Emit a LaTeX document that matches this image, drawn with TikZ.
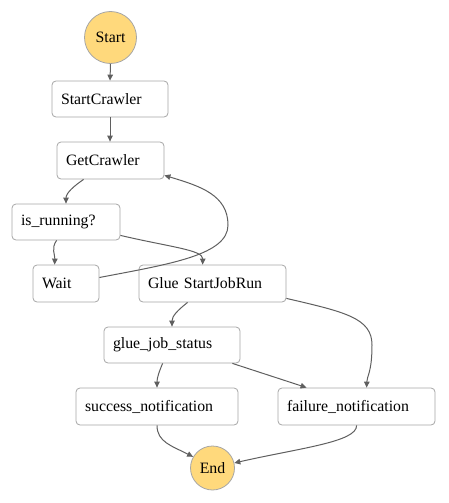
\documentclass[tikz,border=0pt]{standalone}
\usepackage{fontspec}
\setmainfont{Liberation Serif}
\newfontfamily\timesfam{Liberation Serif}
\usetikzlibrary{arrows.meta}
\definecolor{startfill}{HTML}{FFD97C}
\definecolor{boxline}{HTML}{A6A6A6}
\definecolor{edgecol}{HTML}{5F5F5F}
\tikzset{
  statebox/.style={draw=boxline, line width=0.8pt, rounded corners=4pt, fill=white,
    align=left, inner xsep=9pt, inner ysep=0pt, minimum height=#1,
    font=\timesfam\fontsize{15.8}{18}\selectfont, anchor=center},
  statebox/.default=37pt,
  termcircle/.style={circle, draw=boxline, line width=0.8pt, fill=startfill,
    inner sep=0pt, font=\timesfam\fontsize{15.8}{18}\selectfont},
  flow/.style={draw=edgecol, line width=1pt, -{Triangle[length=6pt,width=5.5pt]}}
}
\begin{document}
\begin{tikzpicture}[x=1pt,y=-1pt]
\useasboundingbox (0,0) rectangle (448,503);
% nodes
\node[termcircle, minimum size=52pt] (st) at (110.5,37.5) {Start};
\node[statebox=36pt, text width=98pt] (sc) at (110,99) {StartCrawler};
\node[statebox=37pt, text width=89pt] (gc) at (110.5,160.5) {GetCrawler};
\node[statebox=36pt, text width=90pt] (ir) at (66,222) {is\_running?};
\node[statebox=37pt, text width=48pt] (wt) at (66,283.5) {Wait};
\node[statebox=37pt, text width=129pt] (gs) at (212.5,283.5) {Glue StartJobRun};
\node[statebox=36pt, text width=118pt] (gj) at (172,345) {glue\_job\_status};
\node[statebox=37pt, text width=144pt] (sn) at (157,406.5) {success\_notification};
\node[statebox=37pt, text width=139pt] (fn) at (356.5,406.5) {failure\_notification};
\node[termcircle, minimum size=44pt] (en) at (212.5,468) {End};
% connectors
\draw[flow] (st.south) -- (sc.north);
\draw[flow] (sc.south) -- (sc.south |- gc.north);
\draw[flow] ([xshift=27pt]gc.south west) .. controls (74,186) and (66,193) .. (ir.north);
\draw[flow] ([xshift=45pt]ir.south west) .. controls (51,248) and (55,255) .. ([xshift=22pt]wt.north west);
\draw[flow] ([yshift=5pt]ir.south east) .. controls (170,247) and (203,250) .. ([xshift=64pt]gs.north west);
\draw[flow] ([yshift=6pt]wt.east) .. controls (170,264) and (228,255) .. (228,225) .. controls (228,195) and (200,186) .. ([yshift=4pt]gc.south east);
\draw[flow] ([xshift=49pt]gs.south west) .. controls (178,310) and (172,316) .. (gj.north);
\draw[flow] ([yshift=4pt]gs.south east) .. controls (345,312) and (372,318) .. (372,345) .. controls (372,372) and (367,376) .. ([xshift=89pt]fn.north west);
\draw[flow] ([xshift=59pt]gj.south west) .. controls (159,372) and (157,378) .. (sn.north);
\draw[flow] ([xshift=-8pt]gj.south east) -- ([xshift=29pt]fn.north west);
\draw[flow] (sn.south) .. controls (157,442) and (172,446) .. (en.150);
\draw[flow] ([xshift=79pt]fn.south west) .. controls (357,442) and (300,448) .. (en.13);
\end{tikzpicture}
\end{document}
